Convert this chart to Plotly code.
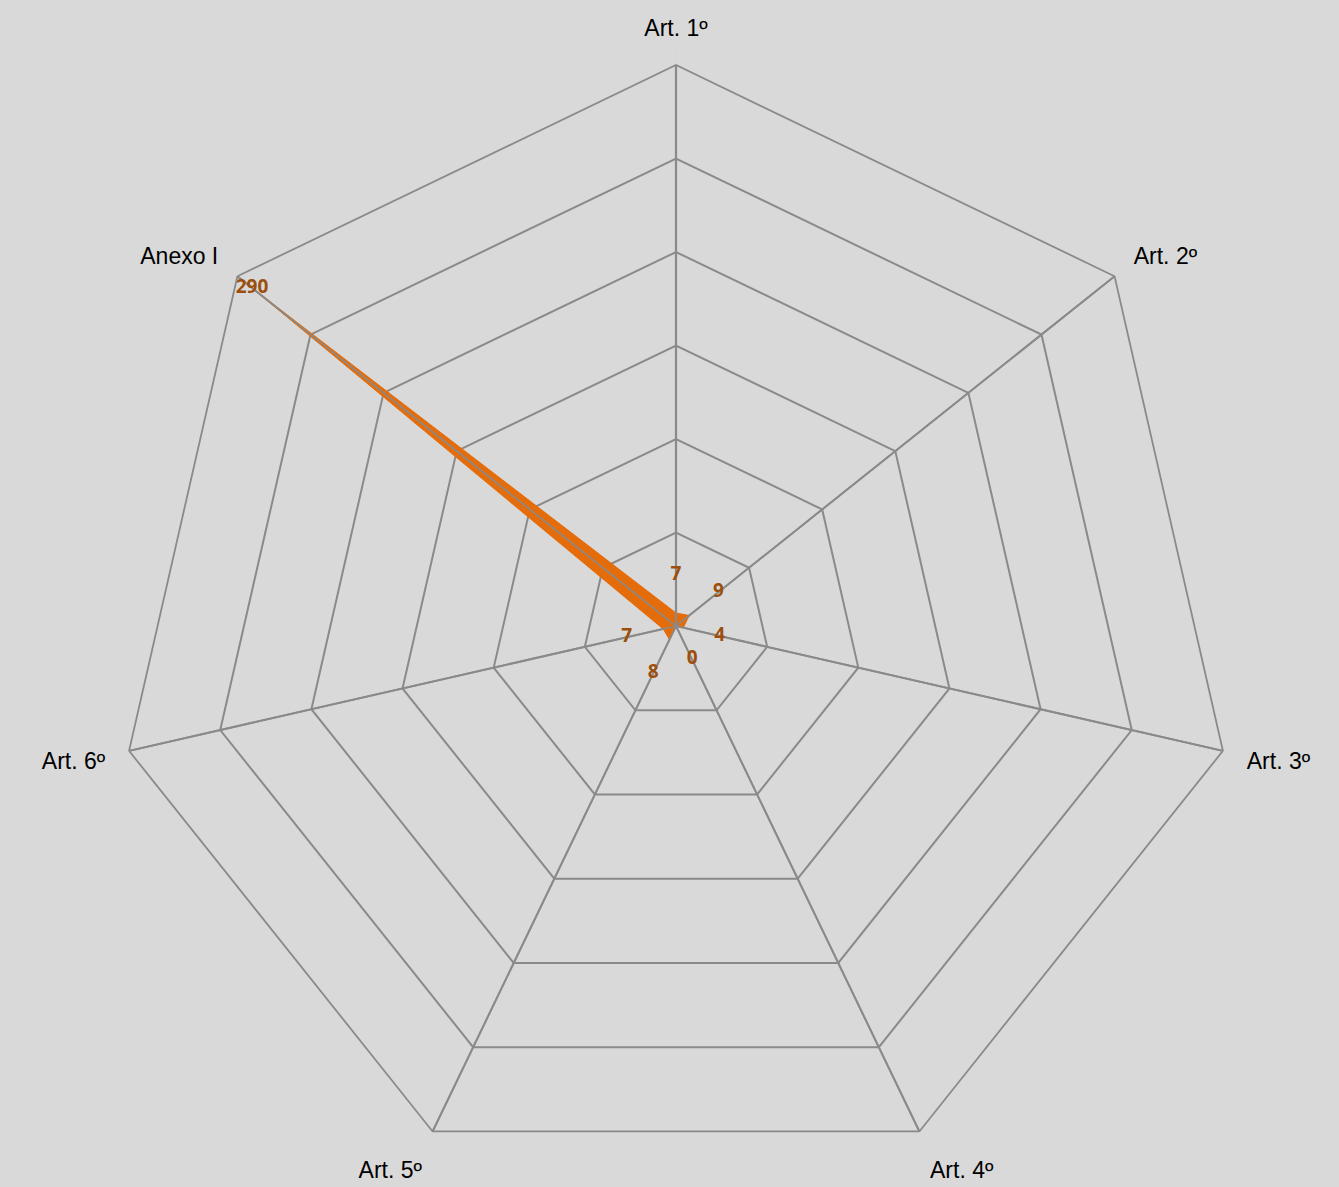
import plotly.graph_objects as go

categories = ["Art. 1º", "Art. 2º", "Art. 3º", "Art. 4º", "Art. 5º", "Art. 6º", "Anexo I"]
values = [7, 9, 4, 0, 8, 7, 290]
r_max = 300
r_step = 50

ORANGE = "#E46C0A"
LABEL = "#9C4F0C"
GRID = "#8A8A8A"
BG = "#D9D9D9"

fig = go.Figure()

# filled series
fig.add_trace(go.Scatterpolar(
    r=values + values[:1], theta=categories + categories[:1],
    mode="lines", fill="toself", fillcolor=ORANGE,
    line=dict(color=ORANGE, width=1), hoverinfo="skip", showlegend=False))

# spokes drawn above the fill (Excel draws them on top)
for c in categories:
    fig.add_trace(go.Scatterpolar(
        r=[0, r_max], theta=[c, c], mode="lines",
        line=dict(color=GRID, width=2.2 if c == categories[0] else 1.6),
        hoverinfo="skip", showlegend=False))

# data labels
label_r = [v + 20 if v < 100 else v for v in values]
fig.add_trace(go.Scatterpolar(
    r=label_r, theta=categories, mode="text",
    text=[str(v) for v in values], textposition="middle center",
    textfont=dict(family="Open Sans", size=19, color=LABEL, weight="bold"),
    hoverinfo="skip", showlegend=False))

fig.update_layout(
    width=1339, height=1187,
    margin=dict(l=0, r=0, t=0, b=0),
    paper_bgcolor=BG, plot_bgcolor=BG,
    showlegend=False,
    polar=dict(
        bgcolor=BG,
        gridshape="linear",
        domain=dict(x=[0.0859, 0.9238], y=[0.0, 0.9452]),
        radialaxis=dict(range=[0, r_max], dtick=r_step, showticklabels=False,
                        ticks="", showline=False, gridcolor=GRID, gridwidth=1.6,
                        angle=90),
        angularaxis=dict(direction="clockwise", rotation=90,
                         showgrid=True, gridcolor=GRID, gridwidth=1.6,
                         showline=True, linecolor=GRID, linewidth=1.8,
                         ticks="outside", ticklen=19, tickcolor=BG, tickwidth=0.1,
                         tickfont=dict(family="Liberation Sans", size=23, color="#000000")),
    ),
)

fig.write_html("out.html")
